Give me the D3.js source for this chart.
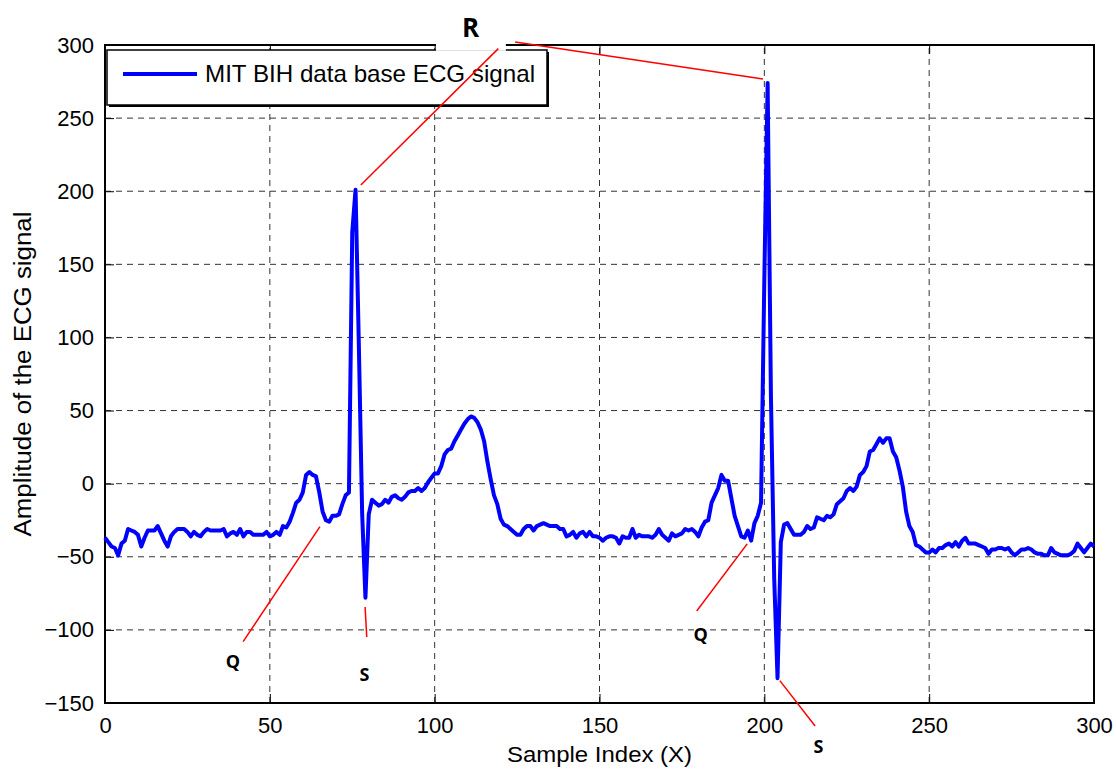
<!DOCTYPE html>
<html>
<head>
<meta charset="utf-8">
<script src="https://cdn.jsdelivr.net/npm/d3@7"></script>
<style>
    body { margin: 0; background: #fff; }
    svg { display: block; }
    text { font-family: "Liberation Sans", Arial, sans-serif; }
    .note { font-family: "Open Sans", "Noto Sans", sans-serif; font-weight: bold; }
</style>
</head>
<body>
<svg id="svg_main"></svg>
<script>
// ECG amplitude for sample index 0..300
const amplitude = [
    -37, -40, -43, -44, -49, -41, -39, -31, -32, -33,
    -35, -43, -37, -32, -32, -32, -29, -34, -39, -43,
    -36, -33, -31, -31, -31, -33, -36, -33, -35, -36,
    -33, -31, -32, -32, -32, -32, -31, -36, -34, -33,
    -35, -31, -36, -33, -33, -35, -35, -35, -35, -33,
    -36, -35, -33, -35, -29, -30, -26, -20, -13, -11,
    -6, 6, 8, 6, 5, -6, -19, -25, -26, -22,
    -22, -21, -14, -8, -6, 172, 201, 95, -20, -78,
    -21, -11, -13, -15, -14, -11, -13, -9, -8, -10,
    -11, -9, -6, -5, -5, -3, -5, -3, 1, 4,
    7, 7, 12, 20, 23, 24, 29, 33, 37, 41,
    44, 46, 45, 42, 37, 29, 15, 3, -8, -14,
    -24, -28, -29, -31, -33, -35, -35, -31, -29, -29,
    -32, -29, -28, -27, -28, -29, -29, -29, -31, -31,
    -36, -35, -33, -37, -34, -33, -36, -33, -36, -36,
    -37, -39, -37, -36, -36, -37, -41, -36, -37, -37,
    -31, -37, -35, -36, -36, -36, -37, -35, -31, -35,
    -37, -39, -34, -36, -35, -34, -31, -32, -31, -33,
    -36, -30, -26, -25, -13, -8, -3, 6, 2, 2,
    -10, -22, -29, -36, -37, -32, -39, -27, -22, -13,
    140, 274, 60, -65, -133, -40, -28, -27, -31, -35,
    -35, -35, -33, -29, -31, -30, -23, -24, -25, -22,
    -23, -21, -14, -12, -10, -5, -3, -5, -2, 6,
    8, 12, 22, 23, 27, 31, 28, 31, 31, 22,
    18, 9, -2, -19, -29, -33, -42, -43, -45, -47,
    -47, -45, -47, -44, -44, -42, -41, -43, -40, -43,
    -39, -37, -41, -41, -41, -42, -43, -44, -48, -45,
    -45, -44, -44, -45, -44, -47, -49, -47, -45, -45,
    -44, -45, -47, -48, -48, -49, -49, -44, -47, -48,
    -49, -49, -49, -48, -46, -41, -44, -47, -44, -41,
    -43
];

const xTicks = [0, 50, 100, 150, 200, 250, 300];
const yTicks = [-150, -100, -50, 0, 50, 100, 150, 200, 250, 300];

const seriesName = 'MIT BIH data base ECG signal';
const xTitle = 'Sample Index (X)';
const yTitle = 'Amplitude of the ECG signal';

// annotation labels and pointer lines, in data units
const noteLabels = [
    {text: 'R', x: 110.9, y: 312, size: 26},
    {text: 'Q', x: 38.8, y: -121.5, size: 18},
    {text: 'S', x: 78.7, y: -130, size: 18},
    {text: 'Q', x: 180.7, y: -102.6, size: 18},
    {text: 'S', x: 216.4, y: -179.6, size: 18}
];
const noteLines = [
    [[77.6, 204.2], [119.3, 297.5]],
    [[124.4, 302], [199.6, 276.8]],
    [[65.2, -29.4], [41.9, -108]],
    [[78.9, -84.4], [79.4, -104.9]],
    [[194.8, -41.2], [179.5, -87.1]],
    [[204.7, -134.7], [215.4, -165.7]]
];

const width = 1116, height = 769;
const margin = {left: 105, right: 22, top: 45, bottom: 66};

const svg = d3.select('#svg_main')
    .attr('width', width)
    .attr('height', height);

const x = d3.scaleLinear().domain([0, 300]).range([margin.left, width - margin.right]);
const y = d3.scaleLinear().domain([-150, 300]).range([height - margin.bottom, margin.top]);

const x0 = x.range()[0], x1 = x.range()[1];
const y0 = y.range()[0], y1 = y.range()[1];

// grid
const grid = svg.append('g')
    .attr('stroke', '#333')
    .attr('stroke-width', 1)
    .attr('stroke-dasharray', '6,5');
grid.selectAll('.gx')
    .data(xTicks.slice(1, -1))
    .join('line')
    .attr('x1', d => x(d)).attr('x2', d => x(d))
    .attr('y1', y0).attr('y2', y1);
grid.selectAll('.gy')
    .data(yTicks.slice(1, -1))
    .join('line')
    .attr('class', 'gy')
    .attr('x1', x0).attr('x2', x1)
    .attr('y1', d => y(d)).attr('y2', d => y(d));

// axes (ticks inside, box on)
const tickLen = 9;
svg.append('g')
    .attr('transform', `translate(0,${y0})`)
    .call(d3.axisBottom(x).tickValues(xTicks).tickSize(-tickLen).tickPadding(14))
    .call(g => g.select('.domain').remove());
svg.append('g')
    .attr('transform', `translate(0,${y1})`)
    .call(d3.axisTop(x).tickValues(xTicks).tickSize(-tickLen).tickFormat(''))
    .call(g => g.select('.domain').remove());
svg.append('g')
    .attr('transform', `translate(${x0},0)`)
    .call(d3.axisLeft(y).tickValues(yTicks).tickSize(-tickLen).tickPadding(11))
    .call(g => g.select('.domain').remove());
svg.append('g')
    .attr('transform', `translate(${x1},0)`)
    .call(d3.axisRight(y).tickValues(yTicks).tickSize(-tickLen).tickFormat(''))
    .call(g => g.select('.domain').remove());

svg.selectAll('.tick line').attr('stroke', '#000');
svg.selectAll('.tick text')
    .attr('fill', '#000')
    .style('font-size', '22px');

svg.append('rect')
    .attr('x', x0).attr('y', y1)
    .attr('width', x1 - x0).attr('height', y0 - y1)
    .attr('fill', 'none')
    .attr('stroke', '#000')
    .attr('stroke-width', 2);

// signal
const line = d3.line()
    .x((d, i) => x(i))
    .y(d => y(d));
svg.append('path')
    .datum(amplitude)
    .attr('d', line)
    .attr('fill', 'none')
    .attr('stroke', '#0000ff')
    .attr('stroke-width', 4)
    .attr('stroke-linejoin', 'round');

// legend
const legend = svg.append('g').attr('transform', 'translate(107,50)');
legend.append('rect')
    .attr('x', 2).attr('y', 2)
    .attr('width', 440).attr('height', 55)
    .attr('fill', '#000');
legend.append('rect')
    .attr('width', 440).attr('height', 55)
    .attr('fill', '#fff')
    .attr('stroke', '#000')
    .attr('stroke-width', 1.5);
legend.append('line')
    .attr('x1', 16).attr('x2', 90)
    .attr('y1', 24).attr('y2', 24)
    .attr('stroke', '#0000ff')
    .attr('stroke-width', 4);
legend.append('text')
    .attr('x', 98).attr('y', 32)
    .style('font-size', '24px')
    .attr('textLength', 330)
    .attr('lengthAdjust', 'spacingAndGlyphs')
    .text(seriesName);

// axis titles
svg.append('text')
    .attr('x', (x0 + x1) / 2).attr('y', 762)
    .attr('text-anchor', 'middle')
    .style('font-size', '22px')
    .attr('textLength', 185)
    .attr('lengthAdjust', 'spacingAndGlyphs')
    .text(xTitle);
svg.append('text')
    .attr('transform', `translate(31,${(y0 + y1) / 2}) rotate(-90)`)
    .attr('text-anchor', 'middle')
    .style('font-size', '23px')
    .attr('textLength', 325)
    .attr('lengthAdjust', 'spacingAndGlyphs')
    .text(yTitle);

// annotations
svg.append('rect')
    .attr('x', x(100.4)).attr('y', 0)
    .attr('width', x(121.6) - x(100.4)).attr('height', y(296))
    .attr('fill', '#fff');

svg.append('g')
    .selectAll('line')
    .data(noteLines)
    .join('line')
    .attr('x1', d => x(d[0][0])).attr('y1', d => y(d[0][1]))
    .attr('x2', d => x(d[1][0])).attr('y2', d => y(d[1][1]))
    .attr('stroke', '#ff0000')
    .attr('stroke-width', 1.5);

svg.append('g')
    .selectAll('text')
    .data(noteLabels)
    .join('text')
    .attr('class', 'note')
    .attr('x', d => x(d.x)).attr('y', d => y(d.y))
    .attr('text-anchor', 'middle')
    .attr('dominant-baseline', 'central')
    .style('font-size', d => d.size + 'px')
    .text(d => d.text);
</script>
</body>
</html>
